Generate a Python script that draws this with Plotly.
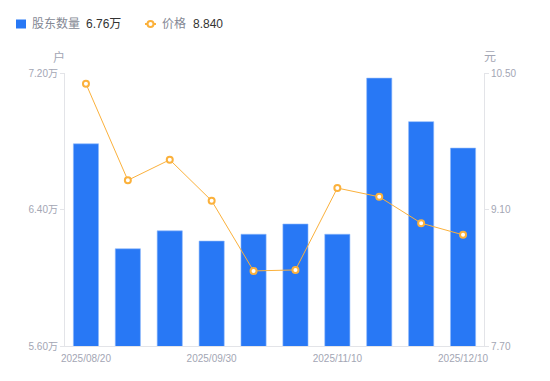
import plotly.graph_objects as go

dates = ["2025/08/20", "2025/08/31", "2025/09/10", "2025/09/30", "2025/10/20",
         "2025/10/31", "2025/11/10", "2025/11/20", "2025/11/30", "2025/12/10"]
holders = [67850, 61700, 62750, 62150, 62550, 63150, 62550, 71700, 69150, 67600]
prices = [10.39, 9.40, 9.61, 9.19, 8.47, 8.48, 9.32, 9.23, 8.96, 8.84]

left_ticks = [56000, 64000, 72000]
left_text = ["5.60万", "6.40万", "7.20万"]
right_ticks = [7.70, 9.10, 10.50]
right_text = ["7.70", "9.10", "10.50"]
x_tick_idx = [0, 3, 6, 9]

BLUE = "#2878f5"
ORANGE = "#fbb13c"
GRAY = "#a3a6b4"
NAME = "#848894"
VAL = "#333333"
AXIS = "#e3e4e8"
FONT = "Arial, Liberation Sans, Noto Sans CJK SC, sans-serif"

# plot area in page pixels (page has 8px body margin)
PX0, PX1, PY0, PY1 = 65, 484, 73, 346
def px(x):
    return (x - PX0) / (PX1 - PX0)
def py(y):
    return (PY1 - y) / (PY1 - PY0)

fig = go.Figure()
fig.add_trace(go.Bar(
    x=list(range(len(dates))), y=holders, name="股东数量",
    marker=dict(color=BLUE, line=dict(color="#8fb8fb", width=0.6)),
    yaxis="y",
))
fig.add_trace(go.Scatter(
    x=list(range(len(dates))), y=prices, name="价格",
    mode="lines+markers",
    line=dict(color=ORANGE, width=1),
    marker=dict(symbol="circle", size=6, color="white", line=dict(color=ORANGE, width=2)),
    yaxis="y2",
))

ly = 24
shapes = [
    dict(type="rect", xref="paper", yref="paper", x0=px(16), x1=px(26), y0=py(28.5), y1=py(19.5),
         fillcolor=BLUE, line=dict(width=0)),
    dict(type="line", xref="paper", yref="paper", x0=px(145), x1=px(156), y0=py(ly), y1=py(ly),
         line=dict(color=ORANGE, width=2)),
    dict(type="circle", xref="paper", yref="paper", x0=px(147.5), x1=px(153.5), y0=py(ly + 3), y1=py(ly - 3),
         fillcolor="white", line=dict(color=ORANGE, width=2)),
]

def ann(text, x, color, size=12):
    return dict(text=text, xref="paper", yref="paper", x=px(x), y=py(ly), showarrow=False,
                xanchor="left", yanchor="middle", font=dict(size=size, color=color, family=FONT))

annotations = [
    ann("股东数量", 30, NAME),
    ann(f"{holders[-1] / 10000:.2f}万", 84, VAL),
    ann("价格", 160, NAME),
    ann(f"{prices[-1]:.3f}", 191, VAL),
    dict(text="户", xref="paper", yref="paper", x=px(59), y=py(57), showarrow=False,
         xanchor="center", yanchor="middle", font=dict(size=12, color=GRAY)),
    dict(text="元", xref="paper", yref="paper", x=px(490), y=py(57), showarrow=False,
         xanchor="center", yanchor="middle", font=dict(size=12, color=GRAY)),
]

fig.update_layout(
    width=542, height=373,
    margin=dict(l=57, r=66, t=65, b=35, autoexpand=False),
    paper_bgcolor="white", plot_bgcolor="white",
    bargap=0.4,
    font=dict(family=FONT, size=10, color=GRAY),
    showlegend=False,
    xaxis=dict(
        type="linear", range=[-0.5, 9.5],
        tickmode="array", tickvals=x_tick_idx, ticktext=[dates[i] for i in x_tick_idx],
        showgrid=False, zeroline=False, showline=True, linecolor=AXIS, linewidth=1,
        ticks="", ticklabelstandoff=3, tickfont=dict(size=10, color=GRAY),
    ),
    yaxis=dict(
        range=[56000, 72000], tickmode="array", tickvals=left_ticks, ticktext=left_text,
        showgrid=False, zeroline=False, showline=True, linecolor=AXIS, linewidth=1,
        ticks="outside", ticklen=4, tickcolor=AXIS, tickfont=dict(size=10, color=GRAY),
    ),
    yaxis2=dict(
        range=[7.70, 10.50], overlaying="y", side="right",
        tickmode="array", tickvals=right_ticks, ticktext=right_text,
        showgrid=False, zeroline=False, showline=True, linecolor=AXIS, linewidth=1,
        ticks="outside", ticklen=4, tickcolor=AXIS, tickfont=dict(size=10, color=GRAY),
    ),
    shapes=shapes,
    annotations=annotations,
)

fig.write_html("out.html")
